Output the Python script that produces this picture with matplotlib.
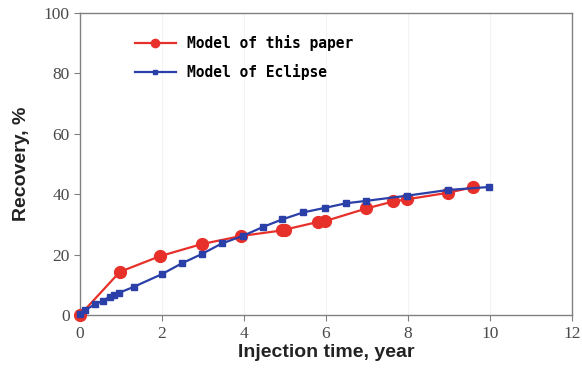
import matplotlib
matplotlib.use("Agg")
import matplotlib.pyplot as plt

paper_x = [0, 0.97, 1.95, 2.97, 3.94, 4.92, 5.0, 5.8, 5.98, 6.99, 7.64, 7.97, 8.98, 9.59]
paper_y = [0, 14.3, 19.5, 23.5, 26.2, 28.0, 28.3, 30.8, 31.1, 35.3, 37.6, 38.3, 40.5, 42.3]

eclipse_x = [0, 0.12, 0.37, 0.55, 0.73, 0.83, 0.96, 1.32, 1.99, 2.48, 2.97, 3.46, 3.97,
             4.47, 4.94, 5.45, 5.98, 6.49, 6.98, 7.97, 8.97, 9.98]
eclipse_y = [0.5, 1.6, 3.6, 4.7, 6.1, 6.6, 7.4, 9.4, 13.5, 17.1, 20.2, 23.7, 26.2,
             29.2, 31.7, 34.0, 35.5, 37.0, 37.8, 39.5, 41.4, 42.4]

xticks = [0, 2, 4, 6, 8, 10, 12]
yticks = [0, 20, 40, 60, 80, 100]

fig = plt.figure(figsize=(5.82, 3.81), dpi=100)
ax = fig.add_axes([0.1375, 0.173, 0.845, 0.793])

red = "#e8302a"
blue = "#2a3fa8"
ax.plot(paper_x, paper_y, color=red, marker="o", markersize=8.5, linewidth=1.6,
        label="Model of this paper", zorder=3, clip_on=False)
ax.plot(eclipse_x, eclipse_y, color=blue, marker="s", markersize=5, linewidth=1.6,
        label="Model of Eclipse", zorder=4, clip_on=False)

ax.set_xlim(0, 12)
ax.set_ylim(0, 100)
ax.set_xticks(xticks)
ax.set_yticks(yticks)
for s in ["left", "bottom", "top", "right"]:
    ax.spines[s].set_color("#808080")
    ax.spines[s].set_linewidth(1.0)
ax.grid(axis="x", color="#f3f3f3", linewidth=0.8)
ax.tick_params(axis="both", direction="out", length=4, color="#808080",
               labelsize=12.5, labelcolor="#4a4a4a")
for lab in ax.get_xticklabels() + ax.get_yticklabels():
    lab.set_family("Liberation Serif")

ax.set_xlabel("Injection time, year", fontsize=14, fontweight="bold",
              family="Liberation Sans", color="#222222", labelpad=2)
ax.set_ylabel("Recovery, %", fontsize=14, fontweight="bold",
              family="Liberation Sans", color="#222222", labelpad=10)

leg = ax.legend(loc="upper left", bbox_to_anchor=(0.085, 0.97), frameon=False,
                prop={"family": "DejaVu Sans Mono", "weight": "bold", "size": 10.5},
                handlelength=2.8, labelspacing=0.9, markerscale=0.7)

fig.savefig("out.png", dpi=100)
